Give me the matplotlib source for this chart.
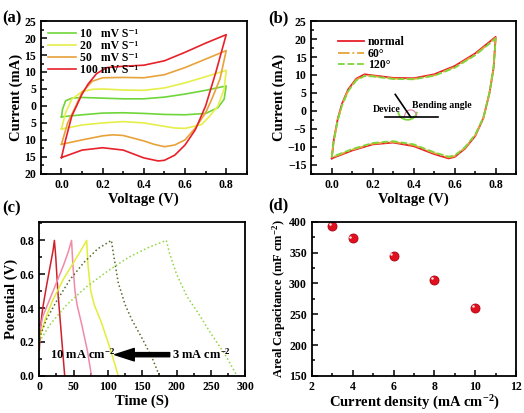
import matplotlib
matplotlib.use("Agg")
import matplotlib.pyplot as plt
from matplotlib.ticker import MultipleLocator, AutoMinorLocator, FuncFormatter
from matplotlib.patches import Arc

plt.rcParams['font.family'] = ['Liberation Serif', 'DejaVu Serif']
plt.rcParams['font.weight'] = 'bold'
plt.rcParams['axes.labelweight'] = 'bold'
plt.rcParams['axes.linewidth'] = 1.3
plt.rcParams['mathtext.fontset'] = 'custom'
plt.rcParams['mathtext.rm'] = 'Liberation Serif:bold'
plt.rcParams['mathtext.bf'] = 'Liberation Serif:bold'
plt.rcParams['mathtext.default'] = 'rm'

# ---- (a) CV at different scan rates: (V, I) forward then reverse sweep ----
cv_labels = ["10   mV S⁻¹", "20   mV S⁻¹", "50   mV S⁻¹", "100 mV S⁻¹"]
cv_colors = ["#6fd63a", "#e6ef4a", "#e8a23a", "#e8202a"]
cv_v = [
    [0.0, 0.005, 0.02, 0.05, 0.1, 0.2, 0.3, 0.4, 0.5, 0.6, 0.7, 0.8,
     0.79, 0.76, 0.7, 0.6, 0.5, 0.4, 0.3, 0.2, 0.1, 0.0],
    [0.0, 0.02, 0.05, 0.1, 0.15, 0.2, 0.3, 0.4, 0.5, 0.6, 0.7, 0.8,
     0.79, 0.76, 0.72, 0.68, 0.6, 0.55, 0.5, 0.4, 0.3, 0.2, 0.1, 0.0],
    [0.0, 0.03, 0.07, 0.1, 0.15, 0.2, 0.3, 0.4, 0.5, 0.6, 0.7, 0.8,
     0.77, 0.73, 0.7, 0.65, 0.6, 0.55, 0.5, 0.45, 0.4, 0.3, 0.25, 0.2, 0.1, 0.0],
    [0.0, 0.02, 0.05, 0.1, 0.13, 0.17, 0.22, 0.3, 0.4, 0.5, 0.6, 0.7, 0.8,
     0.75, 0.7, 0.65, 0.6, 0.55, 0.5, 0.47, 0.4, 0.3, 0.2, 0.1, 0.0],
]
cv_i = [
    [-3.2, -1.0, 1.5, 2.3, 2.5, 2.3, 2.1, 2.1, 2.6, 3.5, 4.6, 5.9,
     2.0, -0.5, -2.2, -2.6, -2.5, -2.2, -2.0, -2.1, -2.6, -3.2],
    [-6.8, -2.0, 2.0, 4.2, 4.9, 5.0, 4.7, 4.6, 5.3, 6.8, 8.6, 10.5,
     5.0, 0.0, -3.0, -5.5, -6.6, -6.5, -6.0, -5.0, -4.6, -5.0, -5.6, -6.8],
    [-11.3, -5.0, 0.0, 4.0, 7.3, 8.3, 8.4, 8.3, 9.2, 11.3, 13.8, 16.3,
     8.0, 2.0, -2.0, -6.5, -10.0, -11.5, -12.0, -11.3, -10.3, -8.7, -8.5, -8.8, -10.0, -11.3],
    [-15.2, -10.0, -3.0, 3.5, 6.5, 9.5, 11.3, 11.7, 12.0, 13.3, 15.8, 18.5, 21.0,
     10.0, 0.0, -7.0, -11.5, -14.5, -16.0, -16.2, -15.3, -13.0, -12.3, -13.0, -15.2],
]

# ---- (b) CV at different bending angles ----
bend_labels = ["normal", "60°", "120°"]
bend_colors = ["#e8202a", "#e8a23a", "#7ed63a"]
bend_styles = ["-", "-.", "--"]
bend_v = [0.0, 0.01, 0.03, 0.05, 0.08, 0.12, 0.16, 0.2, 0.3, 0.4, 0.5, 0.6, 0.7, 0.8,
          0.79, 0.77, 0.74, 0.7, 0.65, 0.6, 0.57, 0.5, 0.4, 0.3, 0.2, 0.1, 0.0]
bend_i = [
    [-13.2, -8.0, -2.0, 2.0, 6.0, 9.0, 10.2, 9.9, 9.2, 9.1, 10.2, 12.5, 16.0, 20.6,
     12.0, 5.0, -2.0, -7.0, -10.5, -12.8, -13.2, -12.0, -9.8, -8.8, -9.3, -11.0, -13.2],
    [-13.0, -8.2, -2.3, 1.7, 5.7, 8.7, 9.9, 9.7, 9.0, 8.9, 9.9, 12.2, 15.7, 20.3,
     12.0, 5.0, -2.0, -6.8, -10.3, -12.6, -12.9, -11.7, -9.5, -8.6, -9.1, -10.8, -13.0],
    [-12.8, -8.3, -2.5, 1.5, 5.5, 8.5, 9.7, 9.6, 8.9, 8.8, 9.8, 12.0, 15.5, 20.1,
     12.2, 5.2, -1.8, -6.6, -10.1, -12.4, -12.7, -11.5, -9.3, -8.4, -8.9, -10.6, -12.8],
]

# ---- (c) GCD curves ----
gcd_colors = ["#d0202a", "#f08aa8", "#e2ee3a", "#556b2f", "#8fd640"]
gcd_styles = ["-", "-", "-", ":", ":"]
gcd_t = [
    [0, 2, 5, 10, 15, 20, 22, 24, 27, 30, 33, 37],
    [0, 5, 15, 25, 35, 42, 47, 49, 52, 55, 62, 70, 76],
    [0, 10, 20, 35, 50, 62, 69, 71, 75, 80, 90, 100, 110, 115],
    [0, 10, 25, 45, 65, 85, 105, 108, 115, 125, 135, 150, 165, 175],
    [0, 15, 40, 70, 100, 130, 160, 185, 190, 200, 215, 230, 250, 270, 288],
]
gcd_u = [
    [0.15, 0.30, 0.40, 0.52, 0.63, 0.74, 0.80, 0.70, 0.50, 0.35, 0.20, 0.0],
    [0.25, 0.35, 0.45, 0.55, 0.65, 0.73, 0.80, 0.65, 0.50, 0.42, 0.30, 0.15, 0.0],
    [0.22, 0.35, 0.45, 0.57, 0.67, 0.75, 0.80, 0.65, 0.50, 0.42, 0.32, 0.20, 0.07, 0.0],
    [0.22, 0.33, 0.44, 0.57, 0.67, 0.75, 0.80, 0.72, 0.55, 0.42, 0.33, 0.22, 0.10, 0.0],
    [0.20, 0.30, 0.42, 0.53, 0.62, 0.70, 0.76, 0.80, 0.72, 0.60, 0.47, 0.38, 0.25, 0.13, 0.0],
]

# ---- (d) areal capacitance ----
current_density = [3, 4, 6, 8, 10]
areal_cap = [393, 373, 345, 305, 260]

fig = plt.figure(figsize=(5.24, 4.13), dpi=100)
axa = fig.add_axes([0.078, 0.579, 0.393, 0.370])
axb = fig.add_axes([0.594, 0.579, 0.391, 0.370])
axc = fig.add_axes([0.075, 0.090, 0.393, 0.373])
axd = fig.add_axes([0.595, 0.090, 0.390, 0.373])


def style(ax):
    ax.tick_params(which='both', direction='in', top=False, right=False, labelsize=8.5, width=1.1)
    ax.tick_params(which='major', length=4)
    ax.tick_params(which='minor', length=2.5)
    ax.xaxis.set_minor_locator(AutoMinorLocator(2))
    ax.yaxis.set_minor_locator(AutoMinorLocator(2))
    for lab in ax.get_xticklabels() + ax.get_yticklabels():
        lab.set_fontweight('bold')


# (a)
for v, i, c, lab in zip(cv_v, cv_i, cv_colors, cv_labels):
    axa.plot(v, i, color=c, lw=1.2, label=lab)
axa.set_xlim(-0.1, 0.9)
axa.set_ylim(-20, 25)
axa.xaxis.set_major_locator(MultipleLocator(0.2))
axa.yaxis.set_major_locator(MultipleLocator(5))
axa.yaxis.set_major_formatter(FuncFormatter(lambda y, p: f"{abs(y):.0f}"))
axa.set_xlabel("Voltage (V)", fontsize=10.5, labelpad=1)
axa.set_ylabel("Current (mA)", fontsize=10.5, labelpad=1)
axa.legend(loc='upper left', frameon=False, handlelength=2.4,
           labelspacing=0.0, borderaxespad=0.2, handletextpad=0.3,
           prop={'weight': 'bold', 'size': 8.5})
style(axa)

# (b)
for i, c, ls, lab in zip(bend_i, bend_colors, bend_styles, bend_labels):
    axb.plot(bend_v, i, color=c, ls=ls, lw=1.3, label=lab)
axb.set_xlim(-0.1, 0.9)
axb.set_ylim(-17.5, 25)
axb.xaxis.set_major_locator(MultipleLocator(0.2))
axb.yaxis.set_major_locator(MultipleLocator(5))
axb.set_xlabel("Voltage (V)", fontsize=10.5, labelpad=1)
axb.set_ylabel("Current (mA)", fontsize=10.5, labelpad=1)
axb.legend(loc='upper left', bbox_to_anchor=(0.08, 0.97), frameon=False, handlelength=2.2,
           labelspacing=-0.05, handletextpad=0.3, prop={'weight': 'bold', 'size': 8.5})
# bending-angle sketch
axb.plot([0.26, 0.52], [-1.7, -1.7], color='black', lw=1.2)
axb.plot([0.31, 0.385], [4.6, -1.7], color='black', lw=1.2)
axb.add_patch(Arc((0.37, -0.2), 0.09, 4.5, theta1=180, theta2=330, color='#7ed63a', lw=1.3))
axb.add_patch(Arc((0.385, -1.7), 0.06, 4.0, theta1=0, theta2=120, color='#e07fa0', lw=0.8))
axb.text(0.335, 0.5, "Device", fontsize=7, ha='right', va='center', fontweight='bold')
axb.text(0.39, 1.4, "Bending angle", fontsize=7, ha='left', va='center', fontweight='bold')
style(axb)

# (c)
for t, u, c, ls in zip(gcd_t, gcd_u, gcd_colors, gcd_styles):
    axc.plot(t, u, color=c, ls=ls, lw=1.1)
axc.set_xlim(0, 300)
axc.set_ylim(0, 0.91)
axc.xaxis.set_major_locator(MultipleLocator(50))
axc.yaxis.set_major_locator(MultipleLocator(0.2))
axc.yaxis.set_major_formatter(FuncFormatter(lambda y, p: f"{y:.1f}"))
axc.set_xlabel("Time (S)", fontsize=10.5, labelpad=1)
axc.set_ylabel("Potential (V)", fontsize=10.5, labelpad=1)
axc.text(16, 0.125, "10 mA cm$^{-2}$", fontsize=9, fontweight='bold', va='center')
axc.text(194, 0.125, "3 mA cm$^{-2}$", fontsize=9, fontweight='bold', va='center')
axc.annotate("", xy=(110, 0.125), xytext=(190, 0.125),
             arrowprops=dict(facecolor='black', edgecolor='black', width=3,
                             headwidth=9, headlength=14))
style(axc)

# (d)
axd.plot(current_density, areal_cap, 'o', color='#e0101e', mec='#b00010', ms=6.5, mew=0.6)
axd.plot([x - 0.12 for x in current_density], [y + 3 for y in areal_cap], 'o',
         color='white', ms=1.8, mew=0, alpha=0.9)
axd.set_xlim(2, 12)
axd.set_ylim(150, 400)
axd.xaxis.set_major_locator(MultipleLocator(2))
axd.yaxis.set_major_locator(MultipleLocator(50))
axd.set_xlabel("Current density (mA cm$^{-2}$)", fontsize=10.5, labelpad=1)
axd.set_ylabel("Areal Capacitance (mF cm$^{-2}$)", fontsize=9, labelpad=1)
style(axd)

fig.text(0.005, 0.975, "(a)", fontsize=12, fontweight='bold', va='top')
fig.text(0.512, 0.975, "(b)", fontsize=12, fontweight='bold', va='top')
fig.text(0.005, 0.515, "(c)", fontsize=12, fontweight='bold', va='top')
fig.text(0.512, 0.522, "(d)", fontsize=12, fontweight='bold', va='top')

fig.savefig("out.png", dpi=100)
